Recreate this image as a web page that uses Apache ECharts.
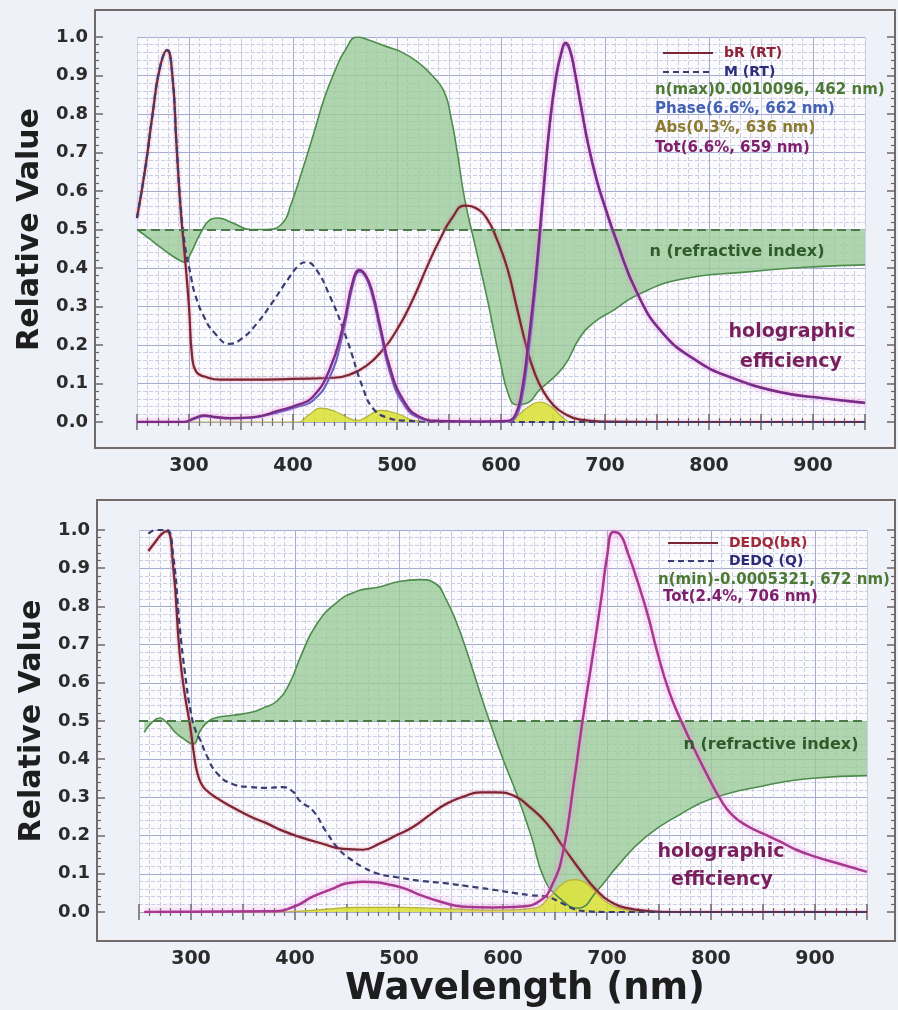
<!DOCTYPE html>
<html>
<head>
<meta charset="utf-8">
<title>Relative Value</title>
<script src="https://cdn.jsdelivr.net/npm/echarts@6/dist/echarts.min.js"></script>
<style>
  html, body { margin: 0; padding: 0; background: #eff1f8; }
  #main { width: 898px; height: 1010px; }
</style>
</head>
<body>
<div id="main"></div>
<script>
// 上图数据 (RT)
const bR_wl = [250, 258, 265, 272, 279, 284, 288, 292, 296, 300, 303, 307, 315, 330, 360, 400, 440, 458, 470, 484, 500, 515, 530, 541, 553, 565, 576, 586, 596, 606, 615, 625, 632, 640, 650, 660, 676, 700, 750, 950]
const bR_RT = [0.53, 0.66, 0.8, 0.92, 0.966, 0.9, 0.72, 0.55, 0.43, 0.3, 0.17, 0.13, 0.118, 0.11, 0.11, 0.112, 0.115, 0.127, 0.145, 0.18, 0.24, 0.317, 0.41, 0.473, 0.53, 0.562, 0.555, 0.53, 0.475, 0.4, 0.3, 0.19, 0.13, 0.083, 0.045, 0.023, 0.006, 0.001, 0, 0]
const M_wl = [250, 258, 265, 272, 279, 284, 288, 292, 296, 301, 306, 315, 325, 339, 350, 365, 380, 395, 405, 412, 420, 435, 452, 467, 477, 490, 510, 550, 950]
const M_RT = [0.53, 0.66, 0.8, 0.92, 0.966, 0.9, 0.72, 0.56, 0.46, 0.39, 0.33, 0.27, 0.23, 0.203, 0.215, 0.255, 0.31, 0.37, 0.405, 0.415, 0.405, 0.33, 0.213, 0.09, 0.035, 0.012, 0.003, 0, 0]
const nTop_wl = [250, 260, 272, 282, 291, 296, 302, 311, 320, 327, 342, 359, 375, 390, 398, 407, 420, 430, 440, 450, 462, 475, 490, 505, 520, 532, 545, 552, 558, 565, 575, 587, 599, 608, 615, 624, 637, 660, 676, 690, 708, 731, 772, 837, 900, 950]
const nTop = [0.5, 0.48, 0.455, 0.435, 0.42, 0.415, 0.44, 0.49, 0.525, 0.53, 0.517, 0.5, 0.5, 0.517, 0.565, 0.637, 0.75, 0.84, 0.91, 0.965, 1.0, 0.99, 0.975, 0.96, 0.935, 0.905, 0.86, 0.79, 0.7, 0.58, 0.46, 0.317, 0.16, 0.065, 0.045, 0.048, 0.083, 0.143, 0.22, 0.26, 0.29, 0.33, 0.37, 0.39, 0.403, 0.408]
const totTop_wl = [250, 295, 305, 315, 325, 340, 360, 387, 405, 419, 435, 448, 458, 464, 470, 476, 484, 493, 506, 522, 540, 580, 606, 614, 620, 626, 633, 640, 647, 653, 658, 662, 666, 671, 677, 684, 692, 700, 710, 731, 756, 788, 820, 868, 910, 950]
const totTop = [0, 0, 0.01, 0.017, 0.013, 0.01, 0.012, 0.03, 0.045, 0.065, 0.135, 0.247, 0.37, 0.395, 0.38, 0.34, 0.247, 0.143, 0.057, 0.013, 0.003, 0.001, 0.003, 0.02, 0.08, 0.2, 0.37, 0.58, 0.78, 0.9, 0.96, 0.985, 0.97, 0.91, 0.82, 0.72, 0.63, 0.56, 0.48, 0.335, 0.23, 0.16, 0.117, 0.078, 0.062, 0.05]
const phaseTop = [0, 0, 0.008, 0.015, 0.012, 0.009, 0.011, 0.026, 0.04, 0.055, 0.115, 0.23, 0.36, 0.39, 0.375, 0.33, 0.235, 0.13, 0.048, 0.01, 0.002, 0.001, 0.002, 0.012, 0.06, 0.17, 0.34, 0.56, 0.77, 0.89, 0.955, 0.98, 0.965, 0.905, 0.815, 0.715, 0.625, 0.555, 0.475, 0.333, 0.228, 0.158, 0.116, 0.077, 0.061, 0.049]
const absTop_wl = [250, 405, 415, 427, 440, 452, 462, 470, 484, 500, 515, 530, 605, 615, 627, 637, 648, 658, 668, 950]
const absTop = [0, 0, 0.018, 0.036, 0.028, 0.012, 0.004, 0.012, 0.03, 0.022, 0.005, 0, 0, 0.015, 0.04, 0.052, 0.04, 0.015, 0, 0]

// 下图数据 DEDQ
const dbR_wl = [259, 266, 272, 277, 283, 289, 294, 299, 303, 306, 310, 315, 325, 340, 357, 373, 386, 405, 425, 446, 465, 482, 497, 513, 530, 546, 562, 578, 594, 610, 626, 642, 658, 674, 690, 706, 720, 738, 760, 950]
const dedqBR = [0.945, 0.97, 0.99, 0.997, 0.9, 0.68, 0.57, 0.49, 0.41, 0.365, 0.335, 0.318, 0.298, 0.274, 0.25, 0.232, 0.215, 0.196, 0.18, 0.165, 0.163, 0.18, 0.2, 0.222, 0.255, 0.284, 0.302, 0.313, 0.313, 0.305, 0.274, 0.232, 0.17, 0.11, 0.057, 0.023, 0.01, 0.003, 0, 0]
const dQ_wl = [259, 266, 272, 277, 283, 289, 294, 300, 305, 309, 315, 325, 340, 357, 373, 388, 398, 405, 417, 430, 443, 455, 465, 480, 498, 520, 546, 570, 594, 610, 626, 642, 655, 668, 680, 700, 950]
const dedqQ = [0.99, 1.0, 1.0, 1.0, 0.93, 0.75, 0.63, 0.52, 0.47, 0.45, 0.41, 0.363, 0.335, 0.327, 0.325, 0.327, 0.315, 0.29, 0.266, 0.21, 0.162, 0.135, 0.118, 0.1, 0.091, 0.082, 0.075, 0.066, 0.057, 0.05, 0.044, 0.04, 0.025, 0.008, 0.002, 0, 0]
const nBot_wl = [255, 262, 270, 277, 285, 292, 302, 309, 317, 325, 340, 357, 370, 383, 395, 405, 420, 440, 460, 480, 500, 520, 535, 545, 555, 565, 576, 587, 600, 613, 627, 640, 655, 672, 691, 710, 737, 770, 801, 850, 898, 950]
const nBot = [0.47, 0.495, 0.508, 0.495, 0.47, 0.455, 0.44, 0.475, 0.5, 0.509, 0.515, 0.522, 0.535, 0.553, 0.6, 0.666, 0.75, 0.81, 0.84, 0.85, 0.865, 0.87, 0.86, 0.82, 0.76, 0.684, 0.59, 0.5, 0.4, 0.31, 0.2, 0.085, 0.035, 0.01, 0.057, 0.12, 0.196, 0.255, 0.297, 0.33, 0.35, 0.357]
const totBot_wl = [255, 380, 400, 417, 435, 450, 465, 478, 490, 505, 520, 540, 562, 590, 615, 636, 648, 658, 668, 677, 687, 695, 700, 706, 712, 720, 730, 740, 748, 760, 773, 786, 798, 808, 820, 835, 850, 866, 882, 900, 925, 950]
const totBot = [0, 0.002, 0.015, 0.04, 0.06, 0.075, 0.079, 0.078, 0.072, 0.062, 0.045, 0.027, 0.014, 0.012, 0.014, 0.03, 0.075, 0.16, 0.336, 0.51, 0.684, 0.83, 0.93, 0.995, 0.99, 0.94, 0.86, 0.77, 0.684, 0.575, 0.49, 0.415, 0.35, 0.3, 0.255, 0.225, 0.205, 0.185, 0.163, 0.145, 0.125, 0.105]
const absBot_wl = [255, 380, 420, 460, 500, 550, 600, 630, 645, 658, 670, 680, 690, 700, 720, 740, 950]
const absBot = [0, 0, 0.005, 0.012, 0.012, 0.008, 0.005, 0.01, 0.04, 0.075, 0.085, 0.075, 0.05, 0.025, 0.005, 0, 0]

const font = 'DejaVu Sans'
const tickColor = '#6f6767'
const labelColor = '#2b2b2b'
const gridMajor = '#a6abd0'
const gridMinor = '#cbcee3'
const pair = (wl, v) => wl.map((w, i) => [w, v[i]])

// 坐标轴 (刻度画在外框上)
function xAxes(gi, offBottom, offTop, name) {
    const tick = { inside: true, length: 8, lineStyle: { color: tickColor, width: 1.5 } }
    const minor = { show: true, splitNumber: 5, length: 4, lineStyle: { color: tickColor, width: 1.2 } }
    return [{
        gridIndex: gi, type: 'value', min: 250, max: 950, interval: 50, position: 'bottom', offset: offBottom,
        axisLine: { show: false }, axisTick: tick, minorTick: minor,
        axisLabel: { margin: 9, color: labelColor, fontFamily: font, fontWeight: 'bold', fontSize: 19, formatter: v => (v % 100 === 0 ? v : '') },
        splitLine: { show: true, lineStyle: { color: [gridMinor, gridMajor], width: 1 } },
        minorSplitLine: { show: true, lineStyle: { color: gridMinor, type: 'dashed', width: 1 } },
        name: name || '', nameLocation: 'middle', nameGap: 30,
        nameTextStyle: { fontFamily: font, fontWeight: 'bold', fontSize: 37, color: '#1e1e1e', padding: [0, 0, 0, 44] }
    }, {
        gridIndex: gi, type: 'value', min: 250, max: 950, interval: 50, position: 'top', offset: offTop,
        axisLine: { show: false }, axisTick: tick, minorTick: minor,
        axisLabel: { show: false }, splitLine: { show: false }
    }]
}
function yAxes(gi, offLeft, offRight) {
    const tick = { inside: true, length: 8, lineStyle: { color: tickColor, width: 1.5 } }
    const minor = { show: true, splitNumber: 5, length: 4, lineStyle: { color: tickColor, width: 1.2 } }
    return [{
        gridIndex: gi, type: 'value', min: 0, max: 1, interval: 0.1, position: 'left', offset: offLeft,
        axisLine: { show: false }, axisTick: tick, minorTick: minor,
        axisLabel: { margin: 7, color: labelColor, fontFamily: font, fontWeight: 'bold', fontSize: 18, formatter: v => v.toFixed(1) },
        splitLine: { show: true, lineStyle: { color: gridMajor, width: 1 } },
        minorSplitLine: { show: true, lineStyle: { color: gridMinor, type: 'dashed', width: 1 } },
        name: 'Relative Value', nameLocation: 'middle', nameGap: 50,
        nameTextStyle: { fontFamily: font, fontWeight: 'bold', fontSize: 30, color: '#1e1e1e' }
    }, {
        gridIndex: gi, type: 'value', min: 0, max: 1, interval: 0.1, position: 'right', offset: offRight,
        axisLine: { show: false }, axisTick: tick, minorTick: minor,
        axisLabel: { show: false }, splitLine: { show: false }
    }]
}
const dummy = gi => ({ gridIndex: gi, type: 'value', show: false })

function line(name, data, ai, color, width, extra) {
    return Object.assign({
        name, type: 'line', data, xAxisIndex: ai, yAxisIndex: ai,
        symbol: 'none', smooth: 0.5,
        lineStyle: { color, width }, itemStyle: { color }
    }, extra || {})
}
function nLine(name, data, ai) {
    return line(name, data, ai, '#4e8c4c', 1.6, {
        areaStyle: { color: '#98cb96', opacity: 0.78, origin: 0.5 },
        markLine: {
            silent: true, symbol: 'none', label: { show: false },
            lineStyle: { color: '#4b7a47', type: [9, 5], width: 2 },
            data: [{ yAxis: 0.5 }]
        }
    })
}
function absLine(name, data, ai) {
    return line(name, data, ai, '#b4b232', 1.2, { areaStyle: { color: '#dbe23e', opacity: 0.9 } })
}
const glow = (color, width, halo, blur) => ({ lineStyle: { color, width, shadowColor: halo, shadowBlur: blur } })

// 图内文字放在曲线上层
const txt = (x, y, text, fill, size, align) => ({
    type: 'text', x, y, z: 100, silent: true,
    style: { text, fill, font: 'bold ' + size + 'px "DejaVu Sans"', align: align || 'left', verticalAlign: 'middle' }
})

const legendBase = {
    orient: 'vertical', itemWidth: 50, itemHeight: 12, selectedMode: false,
    itemStyle: { opacity: 0 },
    textStyle: { fontFamily: font, fontWeight: 'bold', fontSize: 14, padding: [0, 0, 0, 6] }
}

const myChart = echarts.init(document.getElementById('main'))
const option = {
    backgroundColor: '#eff1f8',
    animation: false,
    grid: [
        { left: 95, top: 10, width: 800, height: 438, show: true, borderColor: '#736a6a', borderWidth: 2, backgroundColor: 'transparent' },
        { left: 137, top: 37, width: 728, height: 385, show: true, borderWidth: 0, backgroundColor: '#fbfbfe' },
        { left: 97, top: 500, width: 798, height: 441, show: true, borderColor: '#736a6a', borderWidth: 2, backgroundColor: 'transparent' },
        { left: 139, top: 530, width: 728, height: 382, show: true, borderWidth: 0, backgroundColor: '#fbfbfe' }
    ],
    xAxis: [dummy(0)].concat(xAxes(1, 26, 27), [dummy(2)], xAxes(3, 29, 30, 'Wavelength (nm)')),
    yAxis: [dummy(0)].concat(yAxes(1, 42, 30), [dummy(2)], yAxes(3, 42, 28)),
    legend: [
        Object.assign({}, legendBase, {
            left: 657, top: 41, itemGap: 5,
            data: [{ name: 'bR (RT)', textStyle: { color: '#8b2238' } }, { name: 'M (RT)', textStyle: { color: '#2c2c7a' } }]
        }),
        Object.assign({}, legendBase, {
            left: 662, top: 531, itemGap: 4,
            data: [{ name: 'DEDQ(bR)', textStyle: { color: '#a02a3a' } }, { name: 'DEDQ (Q)', textStyle: { color: '#2c2c7a' } }]
        })
    ],
    graphic: [
        txt(655, 90, 'n(max)0.0010096, 462 nm)', '#4c7a34', 15),
        txt(655, 109, 'Phase(6.6%, 662 nm)', '#4462b4', 15),
        txt(655, 128, 'Abs(0.3%, 636 nm)', '#8c7a2e', 15),
        txt(655, 148, 'Tot(6.6%, 659 nm)', '#7e1f6c', 15),
        txt(737, 252, 'n (refractive index)', '#2f5a2b', 16, 'center'),
        txt(792, 332, 'holographic', '#7a1f5e', 19, 'center'),
        txt(791, 362, 'efficiency', '#7a1f5e', 19, 'center'),
        txt(658, 580, 'n(min)-0.0005321, 672 nm)', '#4c7a34', 15),
        txt(663, 597, 'Tot(2.4%, 706 nm)', '#7e1f6c', 15),
        txt(771, 745, 'n (refractive index)', '#2f5a2b', 16, 'center'),
        txt(721, 852, 'holographic', '#7a1f5e', 19, 'center'),
        txt(722, 880, 'efficiency', '#7a1f5e', 19, 'center')
    ],
    series: [
        // 上图
        nLine('n top', pair(nTop_wl, nTop), 1),
        absLine('Abs top', pair(absTop_wl, absTop), 1),
        line('bR (RT)', pair(bR_wl, bR_RT), 1, '#7d2535', 2.2, glow('#7d2535', 2.2, 'rgba(210,90,110,0.6)', 3)),
        line('M (RT)', pair(M_wl, M_RT), 1, '#3b3d72', 2.2, { lineStyle: { color: '#3b3d72', width: 2.2, type: [6, 4] } }),
        line('Phase top', pair(totTop_wl, phaseTop), 1, '#4a5cc0', 2),
        line('Tot top', pair(totTop_wl, totTop), 1, '#7c2b85', 2.4, glow('#7c2b85', 2.4, 'rgba(235,130,215,0.9)', 5)),
        // 下图
        nLine('n bottom', pair(nBot_wl, nBot), 4),
        absLine('Abs bottom', pair(absBot_wl, absBot), 4),
        line('DEDQ(bR)', pair(dbR_wl, dedqBR), 4, '#7d2535', 2.2, glow('#7d2535', 2.2, 'rgba(210,90,110,0.6)', 3)),
        line('DEDQ (Q)', pair(dQ_wl, dedqQ), 4, '#3b3d72', 2.2, { lineStyle: { color: '#3b3d72', width: 2.2, type: [6, 4] } }),
        line('Tot bottom', pair(totBot_wl, totBot), 4, '#a8388f', 2.5, glow('#a8388f', 2.5, 'rgba(240,140,220,0.95)', 6))
    ]
}
myChart.setOption(option)
</script>
</body>
</html>
